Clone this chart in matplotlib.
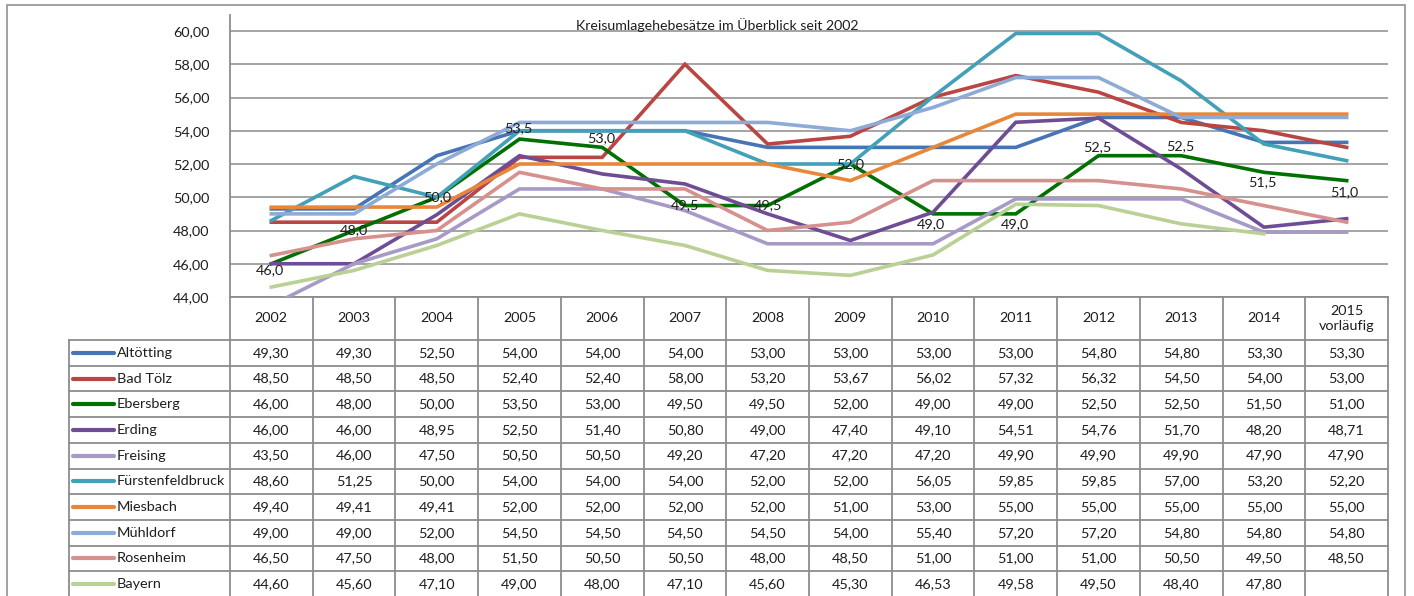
import numpy as np
import matplotlib
matplotlib.use("Agg")
import matplotlib.pyplot as plt
from matplotlib.patches import Rectangle

plt.rcParams['font.family'] = ['Lato', 'DejaVu Sans']

# ---------------- data ----------------
years = ["2002", "2003", "2004", "2005", "2006", "2007", "2008", "2009",
         "2010", "2011", "2012", "2013", "2014", "2015\nvorläufig"]
title = "Kreisumlagehebesätze im Überblick seit 2002"

altoetting = [49.30, 49.30, 52.50, 54.00, 54.00, 54.00, 53.00, 53.00, 53.00, 53.00, 54.80, 54.80, 53.30, 53.30]
bad_toelz = [48.50, 48.50, 48.50, 52.40, 52.40, 58.00, 53.20, 53.67, 56.02, 57.32, 56.32, 54.50, 54.00, 53.00]
ebersberg = [46.00, 48.00, 50.00, 53.50, 53.00, 49.50, 49.50, 52.00, 49.00, 49.00, 52.50, 52.50, 51.50, 51.00]
erding = [46.00, 46.00, 48.95, 52.50, 51.40, 50.80, 49.00, 47.40, 49.10, 54.51, 54.76, 51.70, 48.20, 48.71]
freising = [43.50, 46.00, 47.50, 50.50, 50.50, 49.20, 47.20, 47.20, 47.20, 49.90, 49.90, 49.90, 47.90, 47.90]
fuerstenfeldbruck = [48.60, 51.25, 50.00, 54.00, 54.00, 54.00, 52.00, 52.00, 56.05, 59.85, 59.85, 57.00, 53.20, 52.20]
miesbach = [49.40, 49.41, 49.41, 52.00, 52.00, 52.00, 52.00, 51.00, 53.00, 55.00, 55.00, 55.00, 55.00, 55.00]
muehldorf = [49.00, 49.00, 52.00, 54.50, 54.50, 54.50, 54.50, 54.00, 55.40, 57.20, 57.20, 54.80, 54.80, 54.80]
rosenheim = [46.50, 47.50, 48.00, 51.50, 50.50, 50.50, 48.00, 48.50, 51.00, 51.00, 51.00, 50.50, 49.50, 48.50]
bayern = [44.60, 45.60, 47.10, 49.00, 48.00, 47.10, 45.60, 45.30, 46.53, 49.58, 49.50, 48.40, 47.80, np.nan]

series_names = ["Altötting", "Bad Tölz", "Ebersberg", "Erding", "Freising",
                "Fürstenfeldbruck", "Miesbach", "Mühldorf", "Rosenheim", "Bayern"]
series_values = [altoetting, bad_toelz, ebersberg, erding, freising,
                 fuerstenfeldbruck, miesbach, muehldorf, rosenheim, bayern]

# ---------------- styles ----------------
colors = ["#4674B4", "#B94643", "#007000", "#6E4D95", "#A79AC7",
          "#42A0B8", "#E8873A", "#8EAAD7", "#D6908E", "#B9D194"]
# pixel offsets (dx, dy; dy positive = up) for Ebersberg data labels
label_offsets = [(-1, -6), (0, 0), (0, 0), (-1, 11), (-1, 9), (0, 0), (0, 0),
                 (0, 0), (-2, -10), (-1, -10), (-1, 9), (-1, 10), (-2, -10), (-2, -12)]

W, H = 1414, 596
fig = plt.figure(figsize=(W / 100, H / 100), dpi=100)
fig.patch.set_facecolor("white")

def fx(px):
    return px / W

def fy(py):
    return 1 - py / H

grid_c = "#8C8C8C"
text_c = "#1E1E1E"
fs = 10.4

# outer frame
fig.add_artist(Rectangle((fx(7), fy(640)), fx(1405) - fx(7), fy(5) - fy(640),
                         transform=fig.transFigure, fill=False,
                         edgecolor="#9A9A9A", linewidth=1.3))

# ---------------- main chart ----------------
ax_l, ax_r, ax_t, ax_b = 230, 1388, 15, 297
ax = fig.add_axes([fx(ax_l), fy(ax_b), fx(ax_r) - fx(ax_l), fy(ax_t) - fy(ax_b)])
x = np.arange(len(years))
ax.set_xlim(-0.5, len(years) - 0.5)
y_per_px = 16 / (297 - 31)
ax.set_ylim(44, 60 + (31 - 15) * y_per_px)
ax.set_yticks(np.arange(44, 61, 2))
ax.set_yticklabels([f"{v:.2f}".replace(".", ",") for v in np.arange(44, 61, 2)],
                   fontsize=fs, color=text_c)
ax.tick_params(axis="y", length=0, pad=15)
ax.set_xticks([])
ax.grid(axis="y", color=grid_c, linewidth=1.1)
ax.set_axisbelow(True)
for s in ["top", "right"]:
    ax.spines[s].set_visible(False)
for s in ["left", "bottom"]:
    ax.spines[s].set_color(grid_c)
    ax.spines[s].set_linewidth(1.3)

for name, vals, c in zip(series_names, series_values, colors):
    ax.plot(x, vals, color=c, linewidth=2.6, solid_joinstyle="miter", zorder=3)

for xi, v, (dx, dy) in zip(x, ebersberg, label_offsets):
    ax.annotate(f"{v:.1f}".replace(".", ","), (xi, v), xytext=(dx * 0.72, dy * 0.72),
                textcoords="offset points", ha="center", va="center",
                fontsize=fs, color=text_c, zorder=5, annotation_clip=False)

fig.text(fx(717.6), fy(25), title, ha="center", va="center",
         fontsize=10.2, color=text_c)

# ---------------- data table ----------------
tb_l, tb_t, tb_b = 69, 297, 597
col_w = (ax_r - ax_l) / len(years)
tx0 = -0.5 - (ax_l - tb_l) / col_w
tax = fig.add_axes([fx(tb_l), fy(tb_b), fx(ax_r) - fx(tb_l), fy(tb_t) - fy(tb_b)])
tax.set_xlim(tx0, len(years) - 0.5)
tax.set_ylim(tb_b - tb_t, 0)
tax.axis("off")

head_h = 43
row_h = (tb_b - tb_t - head_h) / len(series_names)
lk = dict(color=grid_c, linewidth=1.3, clip_on=False)
# verticals
for k in range(len(years) + 1):
    tax.plot([k - 0.5, k - 0.5], [0, tb_b - tb_t], **lk)
tax.plot([tx0, tx0], [head_h, tb_b - tb_t], **lk)
# horizontals
for r in range(len(series_names) + 1):
    yy = head_h + r * row_h
    tax.plot([tx0, len(years) - 0.5], [yy, yy], **lk)

for k, yr in enumerate(years):
    tax.text(k, head_h / 2, yr, ha="center", va="center", fontsize=fs,
             color=text_c, linespacing=1.25)

px_per_col = col_w
for r, (name, vals, c) in enumerate(zip(series_names, series_values, colors)):
    yc = head_h + (r + 0.5) * row_h
    sx0 = tx0 + (73 - tb_l) / px_per_col
    sx1 = tx0 + (114 - tb_l) / px_per_col
    tax.plot([sx0, sx1], [yc, yc], color=c, linewidth=3.0, solid_capstyle="round")
    tax.text(tx0 + (117 - tb_l) / px_per_col, yc, name, ha="left", va="center",
             fontsize=fs, color=text_c)
    for k, v in enumerate(vals):
        if np.isnan(v):
            continue
        tax.text(k, yc, f"{v:.2f}".replace(".", ","), ha="center", va="center",
                 fontsize=fs, color=text_c)

fig.savefig("out.png", dpi=100, facecolor="white")
